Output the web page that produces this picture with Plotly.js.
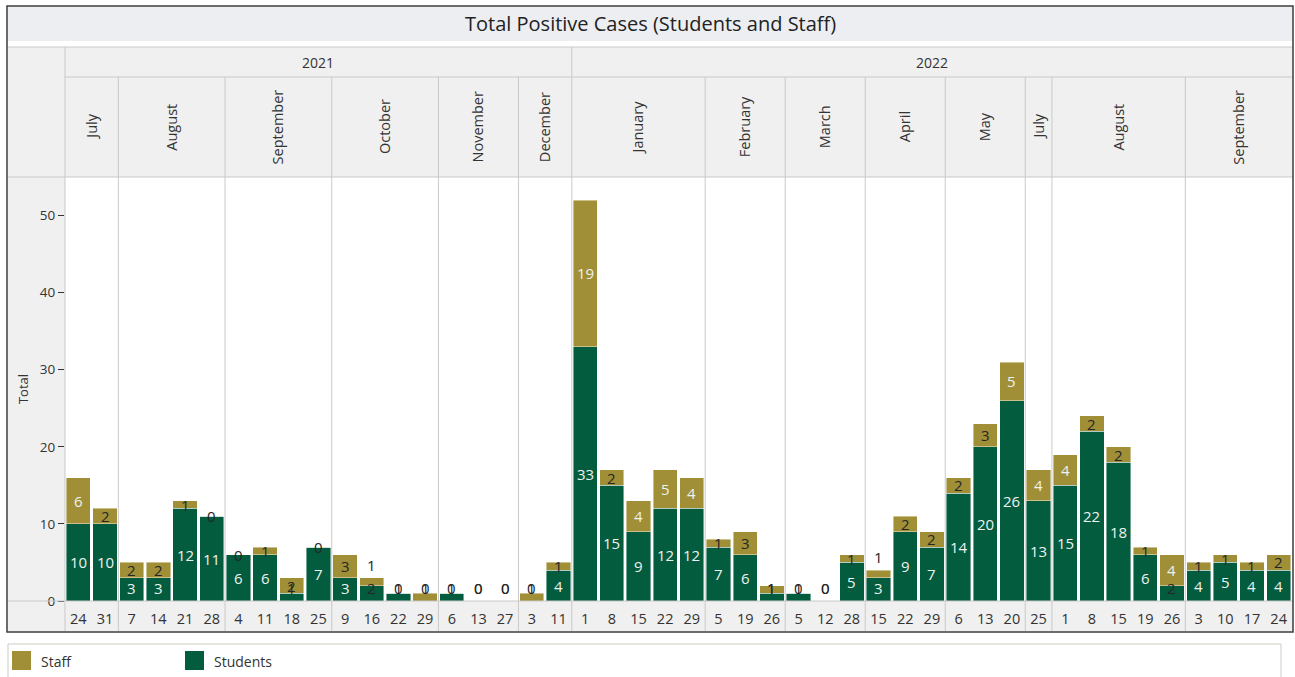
<!DOCTYPE html>
<html>
<head>
<meta charset="utf-8">
<script src="https://cdn.plot.ly/plotly-3.0.1.min.js"></script>
<style>
  html, body { margin: 0; padding: 0; background: #ffffff; }
  #chart { width: 1295px; height: 677px; }
</style>
</head>
<body>
<div id="chart"></div>
<script>
// ---- Data ----
const monthYears = ['2021','2021','2021','2021','2021','2021','2022','2022','2022','2022','2022','2022','2022','2022'];
const monthNames = ['July','August','September','October','November','December','January','February','March','April','May','July','August','September'];
const monthDays = [
  [24,31],[7,14,21,28],[4,11,18,25],[9,16,22,29],[6,13,27],[3,11],
  [1,8,15,22,29],[5,19,26],[5,12,28],[15,22,29],[6,13,20],[25],[1,8,15,19,26],[3,10,17,24]
];
const students = [10,10, 3,3,12,11, 6,6,1,7, 3,2,1,0, 1,0,0, 0,4,
                  33,15,9,12,12, 7,6,1, 1,0,5, 3,9,7, 14,20,26, 13, 15,22,18,6,2, 4,5,4,4];
const staff    = [6,2, 2,2,1,0, 0,1,2,0, 3,1,0,1, 0,0,0, 1,1,
                  19,2,4,5,4, 1,3,1, 0,0,1, 1,2,2, 2,3,5, 4, 4,2,2,1,4, 1,1,1,2];
const titleText = 'Total Positive Cases (Students and Staff)';
const yTitle = 'Total';

// ---- Derived categories ----
const cats = [], dayText = [];
const groupSpans = [];
let idx = 0;
monthDays.forEach((days, g) => {
  const start = idx;
  days.forEach(d => { cats.push(monthYears[g] + ' ' + monthNames[g] + ' ' + d); dayText.push(String(d)); idx++; });
  groupSpans.push({start: start, end: idx - 1, year: monthYears[g], name: monthNames[g]});
});

const GREEN = '#035c3e', OLIVE = '#a08f36';
const LIGHT = '#eef2f0', DARK = '#262626';
const FONT = '"Open Sans", "Noto Sans", sans-serif';

const traces = [
  {
    type: 'bar', name: 'Students', x: cats, y: students,
    marker: {color: GREEN, line: {color: 'rgba(255,255,255,0.55)', width: 0.8}},
    textposition: 'none', hoverinfo: 'x+y+name', showlegend: false
  },
  {
    type: 'bar', name: 'Staff', x: cats, y: staff,
    marker: {color: OLIVE, line: {color: 'rgba(255,255,255,0.55)', width: 0.8}},
    textposition: 'none', hoverinfo: 'x+y+name', showlegend: false
  }
];

// ---- Geometry helpers (pixel -> paper) ----
const L = 65, R = 1292, T = 177, B = 601;
const W = R - L, H = B - T;
const px = p => (p - L) / W;
const py = p => (B - p) / H;
const GRID = '#c9c9c9';

const shapes = [];
const annotations = [];

// value labels (centre of each stacked segment, kept inside plot bottom)
const MINC = 1.7;
cats.forEach((c, i) => {
  const s = students[i], t = staff[i];
  const sc = Math.max(s / 2, MINC);
  const tc = Math.max(s + t / 2, MINC);
  annotations.push({xref:'x', yref:'y', x:c, y:sc, text:String(s),
    showarrow:false, xanchor:'center', yanchor:'middle',
    font:{family:FONT, size:15, color: s >= 3 ? LIGHT : DARK}});
  const above = (tc - sc > 0.5 && tc - sc < 1.9);
  annotations.push({xref:'x', yref:'y', x:c, y: above ? s + t : tc, text:String(t),
    showarrow:false, xanchor:'center', yanchor: above ? 'bottom' : 'middle', yshift: above ? 1 : 0,
    font:{family:FONT, size:15, color: t >= 4 ? LIGHT : DARK}});
});

// backgrounds
shapes.push({type:'rect', xref:'paper', yref:'paper', x0:px(7), x1:px(1293), y0:py(41), y1:py(7), fillcolor:'#eceef1', line:{width:0}, layer:'below'});
shapes.push({type:'rect', xref:'paper', yref:'paper', x0:px(8), x1:px(1293), y0:py(177), y1:py(47), fillcolor:'#f0f0f0', line:{width:0}, layer:'below'});
shapes.push({type:'rect', xref:'paper', yref:'paper', x0:px(8), x1:px(65), y0:py(631), y1:py(177), fillcolor:'#f0f0f0', line:{width:0}, layer:'below'});
shapes.push({type:'rect', xref:'paper', yref:'paper', x0:px(8), x1:px(1293), y0:py(631), y1:py(601), fillcolor:'#f0f0f0', line:{width:0}, layer:'below'});

// horizontal grid lines of header / footer
[[47, 8], [77, 65], [177, 8], [601, 8]].forEach(([yy, xs]) => {
  shapes.push({type:'line', xref:'paper', yref:'paper', x0:px(xs), x1:px(1293), y0:py(yy), y1:py(yy), line:{color:GRID, width:1}});
});
// left column divider
shapes.push({type:'line', xref:'paper', yref:'paper', x0:0, x1:0, y0:py(631), y1:py(47), line:{color:GRID, width:1}});

// month / year dividers from data groups
groupSpans.forEach((g, i) => {
  if (i > 0) {
    const yearChange = groupSpans[i-1].year !== g.year;
    shapes.push({type:'line', xref:'x', yref:'paper', x0:g.start - 0.5, x1:g.start - 0.5,
      y0:py(631), y1: yearChange ? py(47) : py(77), line:{color:GRID, width:1}});
  }
  annotations.push({xref:'x', yref:'paper', x:(g.start + g.end) / 2, y:py(127), text:g.name,
    textangle:-90, showarrow:false, font:{family:FONT, size:14.5, color:'#333'}, xanchor:'center', yanchor:'middle'});
});
// year labels
[...new Set(monthYears)].forEach(yr => {
  const gs = groupSpans.filter(g => g.year === yr);
  annotations.push({xref:'x', yref:'paper', x:(gs[0].start + gs[gs.length-1].end) / 2, y:py(62), text:yr,
    showarrow:false, font:{family:FONT, size:14, color:'#333'}, xanchor:'center', yanchor:'middle'});
});

// outer frame
shapes.push({type:'rect', xref:'paper', yref:'paper', x0:px(7), x1:px(1293), y0:py(632), y1:py(6), line:{color:'#3c3c3c', width:1.5}, fillcolor:'rgba(0,0,0,0)'});

// title
annotations.push({xref:'paper', yref:'paper', x:px(650), y:py(24), text:titleText, showarrow:false,
  font:{family:FONT, size:20, color:'#222'}, xanchor:'center', yanchor:'middle'});

// legend box
shapes.push({type:'rect', xref:'paper', yref:'paper', x0:px(8), x1:px(1281), y0:py(690), y1:py(644), line:{color:'#cfcbc2', width:1}, fillcolor:'#ffffff'});
const legendItems = [{name:traces[1].name, color:OLIVE, x:12}, {name:traces[0].name, color:GREEN, x:185}];
legendItems.forEach(it => {
  shapes.push({type:'rect', xref:'paper', yref:'paper', x0:px(it.x), x1:px(it.x + 19), y0:py(670), y1:py(651), fillcolor:it.color, line:{width:0}});
  annotations.push({xref:'paper', yref:'paper', x:px(it.x + 27), y:py(661), text:it.name, showarrow:false,
    font:{family:FONT, size:14, color:'#333'}, xanchor:'left', yanchor:'middle'});
});

const layout = {
  width: 1295, height: 677,
  margin: {l: L, r: 1295 - R, t: T, b: 677 - B, pad: 0},
  paper_bgcolor: '#ffffff', plot_bgcolor: '#ffffff',
  barmode: 'stack', bargap: 0.09,
  showlegend: false,
  font: {family: FONT, color: '#333'},
  xaxis: {
    type: 'category', categoryorder: 'array', categoryarray: cats,
    tickvals: cats, ticktext: dayText, tickangle: 0,
    tickfont: {family: FONT, size: 14.5, color: '#333'},
    ticks: 'outside', ticklen: 5, tickcolor: 'rgba(0,0,0,0)',
    showgrid: false, zeroline: false, showline: false,
    range: [-0.5, cats.length - 0.5], fixedrange: true
  },
  yaxis: {
    range: [0, 55], tickvals: [0,10,20,30,40,50],
    ticks: 'outside', ticklen: 6, tickcolor: '#333', tickwidth: 1,
    tickfont: {family: FONT, size: 13.5, color: '#333'},
    showgrid: false, zeroline: false, showline: false,
    title: {text: yTitle, font: {family: FONT, size: 13, color: '#333'}, standoff: 8},
    fixedrange: true
  },
  shapes: shapes,
  annotations: annotations
};

Plotly.newPlot('chart', traces, layout, {displayModeBar: false});
</script>
</body>
</html>
